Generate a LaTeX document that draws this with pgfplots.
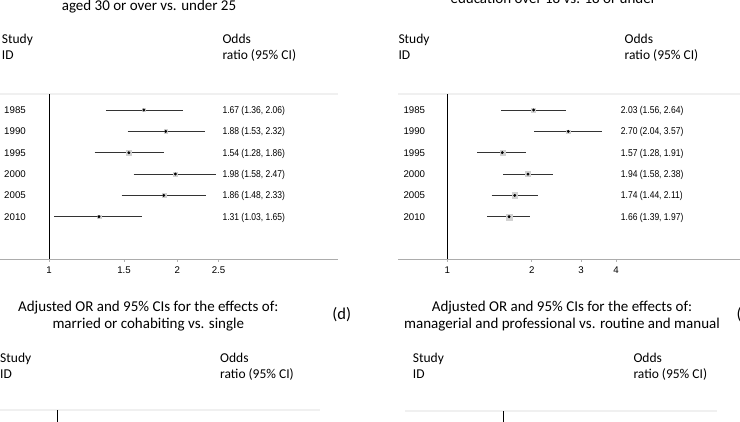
\documentclass[border=0pt]{standalone}
\usepackage{pgfplots}
\pgfplotsset{compat=1.18}
\usepackage{pgfplotstable}
\usepackage{fontspec}
\setmainfont{Carlito}
\newfontfamily\arial{Liberation Sans}
\newfontfamily\arialn[FakeStretch=0.86]{Liberation Sans}
\newcommand{\hdr}{\fontsize{13.5}{16.5}\selectfont}
\newcommand{\ttl}{\fontsize{15}{18}\selectfont}
\newcommand{\yrf}{\arial\fontsize{9.7}{11}\selectfont}
\newcommand{\orf}{\arialn\fontsize{9.9}{11}\selectfont}

% panel (top left): aged 30 or over vs. under 25
\pgfplotstableread{
row year or lo hi w
6 1985 1.67 1.36 2.06 1.6
5 1990 1.88 1.53 2.32 1.8
4 1995 1.54 1.28 1.86 2.4
3 2000 1.98 1.58 2.47 1.9
2 2005 1.86 1.48 2.33 1.9
1 2010 1.31 1.03 1.65 1.9
}\dataA
% panel (top right): education over 18 vs. 18 or under
\pgfplotstableread{
row year or lo hi w
6 1985 2.03 1.56 2.64 2.0
5 1990 2.70 2.04 3.57 1.6
4 1995 1.57 1.28 1.91 2.5
3 2000 1.94 1.58 2.38 2.5
2 2005 1.74 1.44 2.11 2.7
1 2010 1.66 1.39 1.97 3.0
}\dataB

\begin{document}
\begin{tikzpicture}[x=1pt,y=1pt]
\useasboundingbox (0,0) rectangle (740,422);
\clip (0,0) rectangle (740,422);

% ---------- titles and headers ----------
\node[anchor=base, font=\ttl] at (149,411.5) {aged 30 or over vs. under 25};
\node[anchor=base, font=\ttl] at (553.3,418) {education over 18 vs. 18 or under};

\node[anchor=base west, font=\hdr, inner sep=0pt] at (1.7,378) {Study};
\node[anchor=base west, font=\hdr, inner sep=0pt] at (1.7,362) {ID};
\node[anchor=base west, font=\hdr, inner sep=0pt] at (222.3,378) {Odds};
\node[anchor=base west, font=\hdr, inner sep=0pt] at (222.3,362) {ratio (95\% CI)};

\node[anchor=base west, font=\hdr, inner sep=0pt] at (398.3,378) {Study};
\node[anchor=base west, font=\hdr, inner sep=0pt] at (398.3,362) {ID};
\node[anchor=base west, font=\hdr, inner sep=0pt] at (624.5,378) {Odds};
\node[anchor=base west, font=\hdr, inner sep=0pt] at (624.5,362) {ratio (95\% CI)};

% bottom titles
\node[anchor=base, font=\ttl] at (148.3,110.3) {Adjusted OR and 95\% CIs for the effects of:};
\node[anchor=base, font=\ttl] at (148.3,93.7) {married or cohabiting vs. single};
\node[font=\fontsize{16.5}{19}\selectfont] at (341.7,107) {(d)};
\node[anchor=base, font=\ttl] at (562,110.3) {Adjusted OR and 95\% CIs for the effects of:};
\node[anchor=base, font=\ttl] at (562,93.7) {managerial and professional vs. routine and manual};
\node[anchor=west, font=\fontsize{16.5}{19}\selectfont, inner sep=0pt] at (736.5,107) {(e)};

\node[anchor=base west, font=\hdr, inner sep=0pt] at (0,59.7) {Study};
\node[anchor=base west, font=\hdr, inner sep=0pt] at (0,43.7) {ID};
\node[anchor=base west, font=\hdr, inner sep=0pt] at (220,59.7) {Odds};
\node[anchor=base west, font=\hdr, inner sep=0pt] at (220,43.7) {ratio (95\% CI)};

\node[anchor=base west, font=\hdr, inner sep=0pt] at (412.7,59.7) {Study};
\node[anchor=base west, font=\hdr, inner sep=0pt] at (412.7,43.7) {ID};
\node[anchor=base west, font=\hdr, inner sep=0pt] at (633.3,59.7) {Odds};
\node[anchor=base west, font=\hdr, inner sep=0pt] at (633.3,43.7) {ratio (95\% CI)};

% ---------- top left forest plot ----------
\begin{axis}[xmode=log, scale only axis, at={(-2pt,163pt)}, anchor=south west,
  width=340pt, height=165pt, xmin=0.7590, xmax=4.769, ymin=-0.98, ymax=6.75,
  axis y line=none, axis x line*=bottom,
  x axis line style={gray!65, line width=0.8pt, -},
  tick align=outside, major tick length=3pt,
  xtick style={gray!60, line width=0.6pt},
  xticklabel style={font=\yrf, text=black, yshift=-1.5pt},
  clip=false,
  xtick={1,1.5,2,2.5}, xticklabels={1,1.5,2,2.5}]
  \draw[gray!12, line width=1.5pt] (rel axis cs:0,1) -- (rel axis cs:1,1);
  \addplot[black, line width=0.9pt] coordinates {(1,-0.98) (1,6.75)};
  \addplot[black!80, line width=0.9pt, unbounded coords=jump] coordinates {(1.36,6) (2.06,6) (nan,nan) (1.53,5) (2.32,5) (nan,nan)
    (1.28,4) (1.86,4) (nan,nan) (1.58,3) (2.47,3) (nan,nan)
    (1.48,2) (2.33,2) (nan,nan) (1.03,1) (1.65,1)};
  \addplot[scatter, only marks, mark=square*, point meta=explicit, color=gray!35,
    mark options={draw=gray!35, fill=gray!35},
    scatter/use mapped color={draw=gray!35, fill=gray!35},
    visualization depends on={\thisrow{w} \as \wt},
    scatter/@pre marker code/.append style={/tikz/mark size=\wt}]
    table[x=or, y=row, meta=w] {\dataA};
  \addplot[only marks, mark=*, mark size=1.25pt, black] table[x=or, y=row] {\dataA};
  \node[anchor=base west, font=\yrf, inner sep=0pt] at ([xshift=-45pt, yshift=-3.5pt]axis cs:1,6) {1985};
  \node[anchor=base west, font=\yrf, inner sep=0pt] at ([xshift=-45pt, yshift=-3.5pt]axis cs:1,5) {1990};
  \node[anchor=base west, font=\yrf, inner sep=0pt] at ([xshift=-45pt, yshift=-3.5pt]axis cs:1,4) {1995};
  \node[anchor=base west, font=\yrf, inner sep=0pt] at ([xshift=-45pt, yshift=-3.5pt]axis cs:1,3) {2000};
  \node[anchor=base west, font=\yrf, inner sep=0pt] at ([xshift=-45pt, yshift=-3.5pt]axis cs:1,2) {2005};
  \node[anchor=base west, font=\yrf, inner sep=0pt] at ([xshift=-45pt, yshift=-3.5pt]axis cs:1,1) {2010};
  \node[anchor=base west, font=\orf, inner sep=0pt] at ([xshift=173.3pt, yshift=-3.6pt]axis cs:1,6) {1.67 (1.36, 2.06)};
  \node[anchor=base west, font=\orf, inner sep=0pt] at ([xshift=173.3pt, yshift=-3.6pt]axis cs:1,5) {1.88 (1.53, 2.32)};
  \node[anchor=base west, font=\orf, inner sep=0pt] at ([xshift=173.3pt, yshift=-3.6pt]axis cs:1,4) {1.54 (1.28, 1.86)};
  \node[anchor=base west, font=\orf, inner sep=0pt] at ([xshift=173.3pt, yshift=-3.6pt]axis cs:1,3) {1.98 (1.58, 2.47)};
  \node[anchor=base west, font=\orf, inner sep=0pt] at ([xshift=173.3pt, yshift=-3.6pt]axis cs:1,2) {1.86 (1.48, 2.33)};
  \node[anchor=base west, font=\orf, inner sep=0pt] at ([xshift=173.3pt, yshift=-3.6pt]axis cs:1,1) {1.31 (1.03, 1.65)};
\end{axis}

% ---------- top right forest plot ----------
\begin{axis}[xmode=log, scale only axis, at={(398pt,163pt)}, anchor=south west,
  width=347pt, height=165pt, xmin=0.6671, xmax=11.52, ymin=-0.98, ymax=6.75,
  axis y line=none, axis x line*=bottom,
  x axis line style={gray!65, line width=0.8pt, -},
  tick align=outside, major tick length=3pt,
  xtick style={gray!60, line width=0.6pt},
  xticklabel style={font=\yrf, text=black, yshift=-1.5pt},
  clip=false,
  xtick={1,2,3,4}, xticklabels={1,2,3,4}]
  \draw[gray!12, line width=1.5pt] (rel axis cs:0,1) -- (rel axis cs:1,1);
  \addplot[black, line width=0.9pt] coordinates {(1,-0.98) (1,6.75)};
  \addplot[black!80, line width=0.9pt, unbounded coords=jump] coordinates {(1.56,6) (2.64,6) (nan,nan) (2.04,5) (3.57,5) (nan,nan)
    (1.28,4) (1.91,4) (nan,nan) (1.58,3) (2.38,3) (nan,nan)
    (1.44,2) (2.11,2) (nan,nan) (1.39,1) (1.97,1)};
  \addplot[scatter, only marks, mark=square*, point meta=explicit, color=gray!35,
    mark options={draw=gray!35, fill=gray!35},
    scatter/use mapped color={draw=gray!35, fill=gray!35},
    visualization depends on={\thisrow{w} \as \wt},
    scatter/@pre marker code/.append style={/tikz/mark size=\wt}]
    table[x=or, y=row, meta=w] {\dataB};
  \addplot[only marks, mark=*, mark size=1.25pt, black] table[x=or, y=row] {\dataB};
  \node[anchor=base west, font=\yrf, inner sep=0pt] at ([xshift=-44pt, yshift=-3.5pt]axis cs:1,6) {1985};
  \node[anchor=base west, font=\yrf, inner sep=0pt] at ([xshift=-44pt, yshift=-3.5pt]axis cs:1,5) {1990};
  \node[anchor=base west, font=\yrf, inner sep=0pt] at ([xshift=-44pt, yshift=-3.5pt]axis cs:1,4) {1995};
  \node[anchor=base west, font=\yrf, inner sep=0pt] at ([xshift=-44pt, yshift=-3.5pt]axis cs:1,3) {2000};
  \node[anchor=base west, font=\yrf, inner sep=0pt] at ([xshift=-44pt, yshift=-3.5pt]axis cs:1,2) {2005};
  \node[anchor=base west, font=\yrf, inner sep=0pt] at ([xshift=-44pt, yshift=-3.5pt]axis cs:1,1) {2010};
  \node[anchor=base west, font=\orf, inner sep=0pt] at ([xshift=173.4pt, yshift=-3.6pt]axis cs:1,6) {2.03 (1.56, 2.64)};
  \node[anchor=base west, font=\orf, inner sep=0pt] at ([xshift=173.4pt, yshift=-3.6pt]axis cs:1,5) {2.70 (2.04, 3.57)};
  \node[anchor=base west, font=\orf, inner sep=0pt] at ([xshift=173.4pt, yshift=-3.6pt]axis cs:1,4) {1.57 (1.28, 1.91)};
  \node[anchor=base west, font=\orf, inner sep=0pt] at ([xshift=173.4pt, yshift=-3.6pt]axis cs:1,3) {1.94 (1.58, 2.38)};
  \node[anchor=base west, font=\orf, inner sep=0pt] at ([xshift=173.4pt, yshift=-3.6pt]axis cs:1,2) {1.74 (1.44, 2.11)};
  \node[anchor=base west, font=\orf, inner sep=0pt] at ([xshift=173.4pt, yshift=-3.6pt]axis cs:1,1) {1.66 (1.39, 1.97)};
\end{axis}

% ---------- bottom left (cut off) ----------
\begin{axis}[xmode=log, scale only axis, at={(-2pt,-153pt)}, anchor=south west,
  width=322pt, height=165pt, xmin=0.727, xmax=4.144, ymin=-0.98, ymax=6.75,
  axis y line=none, axis x line*=bottom,
  x axis line style={gray!65, line width=0.8pt, -},
  clip=false, xtick={1}, xticklabels={1}]
  \draw[gray!12, line width=1.5pt] (rel axis cs:0,1) -- (rel axis cs:1,1);
  \addplot[black, line width=0.9pt] coordinates {(1,-0.98) (1,6.75)};
\end{axis}

% ---------- bottom right (cut off) ----------
\begin{axis}[xmode=log, scale only axis, at={(405pt,-154pt)}, anchor=south west,
  width=312pt, height=165pt, xmin=0.447, xmax=5.795, ymin=-0.98, ymax=6.75,
  axis y line=none, axis x line*=bottom,
  x axis line style={gray!65, line width=0.8pt, -},
  clip=false, xtick={1}, xticklabels={1}]
  \draw[gray!12, line width=1.5pt] (rel axis cs:0,1) -- (rel axis cs:1,1);
  \addplot[black, line width=0.9pt] coordinates {(1,-0.98) (1,6.75)};
\end{axis}
\end{tikzpicture}
\end{document}
